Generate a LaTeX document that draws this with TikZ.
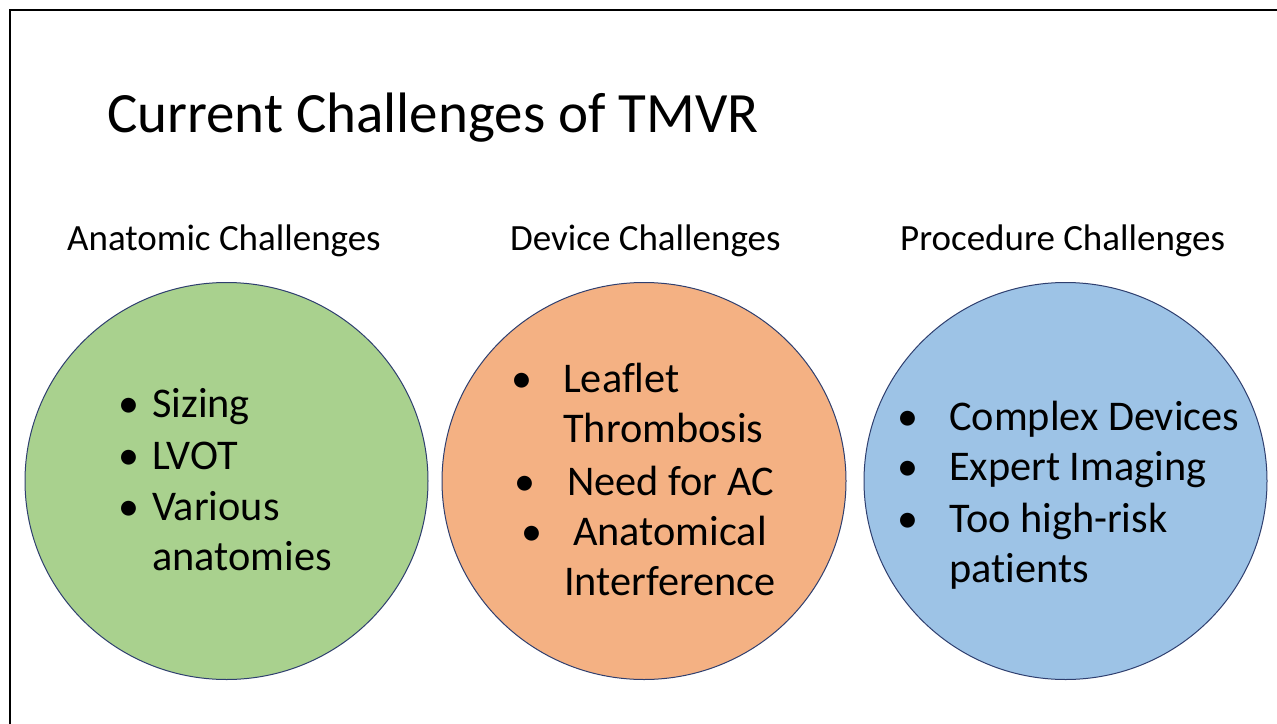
\documentclass[tikz,border=0pt]{standalone}
\usepackage{fontspec}
\setmainfont{Carlito}[Ligatures={NoCommon}]
\definecolor{cgreen}{HTML}{A9D18E}
\definecolor{corange}{HTML}{F4B183}
\definecolor{cblue}{HTML}{9DC3E6}
\definecolor{cedge}{HTML}{2F3F6F}
\begin{document}
\begin{tikzpicture}[x=1pt,y=-1pt,
  circ/.style={draw=cedge, line width=1pt},
  title/.style={anchor=base west, inner sep=0pt, font=\fontsize{57}{60}\selectfont},
  head/.style={anchor=base west, inner sep=0pt, font=\fontsize{37}{40}\selectfont},
  item/.style={anchor=base west, inner sep=0pt, font=\fontsize{42.3}{46}\selectfont},
  bul/.style={anchor=base, inner sep=0pt, font=\fontsize{42}{46}\selectfont}]
\useasboundingbox (0,0) rectangle (1277,723);
\fill[white] (0,0) rectangle (1277,723);
\draw[line width=2pt] (10,730) -- (10,10) -- (1285,10);
% circles
\fill[cgreen] (226.5,481) ellipse [x radius=201.5, y radius=198.5];
\draw[circ] (226.5,481) ellipse [x radius=201.5, y radius=198.5];
\fill[corange] (644,481) ellipse [x radius=202, y radius=198.5];
\draw[circ] (644,481) ellipse [x radius=202, y radius=198.5];
\fill[cblue] (1065.5,481) ellipse [x radius=201.5, y radius=198.5];
\draw[circ] (1065.5,481) ellipse [x radius=201.5, y radius=198.5];
% title
\node[title] (t) at (107,132) {Current Challenges of TMVR};
% headings
\node[head] (h1) at (67,250) {Anatomic Challenges};
\node[head] (h2) at (510,250) {Device Challenges};
\node[head] (h3) at (900,250) {Procedure Challenges};
% green items
\node[bul] (gb1) at (129,417) {\textbullet};
\node[item] (g1) at (152,417) {Sizing};
\node[bul] (gb2) at (129,469) {\textbullet};
\node[item] (g2) at (152,469) {LVOT};
\node[bul] (gb3) at (129,520) {\textbullet};
\node[item] (g3) at (152,520) {Various};
\node[item] (g4) at (152,570) {anatomies};
% orange items
\node[bul] (ob1) at (522,392) {\textbullet};
\node[item] (o1) at (563,392) {Leaflet};
\node[item] (o2) at (563,442) {Thrombosis};
\node[bul] (ob2) at (525,495) {\textbullet};
\node[item] (o3) at (567,495) {Need for AC};
\node[bul] (ob3) at (532,545) {\textbullet};
\node[item] (o4) at (573,545) {Anatomical};
\node[item] (o5) at (564,595) {Interference};
% blue items
\node[bul] (bb1) at (908,430) {\textbullet};
\node[item] (b1) at (949,430) {Complex Devices};
\node[bul] (bb2) at (908,480) {\textbullet};
\node[item] (b2) at (949,480) {Expert Imaging};
\node[bul] (bb3) at (908,532) {\textbullet};
\node[item] (b3) at (949,532) {Too high-risk};
\node[item] (b4) at (949,582) {patients};
\end{tikzpicture}
\end{document}
